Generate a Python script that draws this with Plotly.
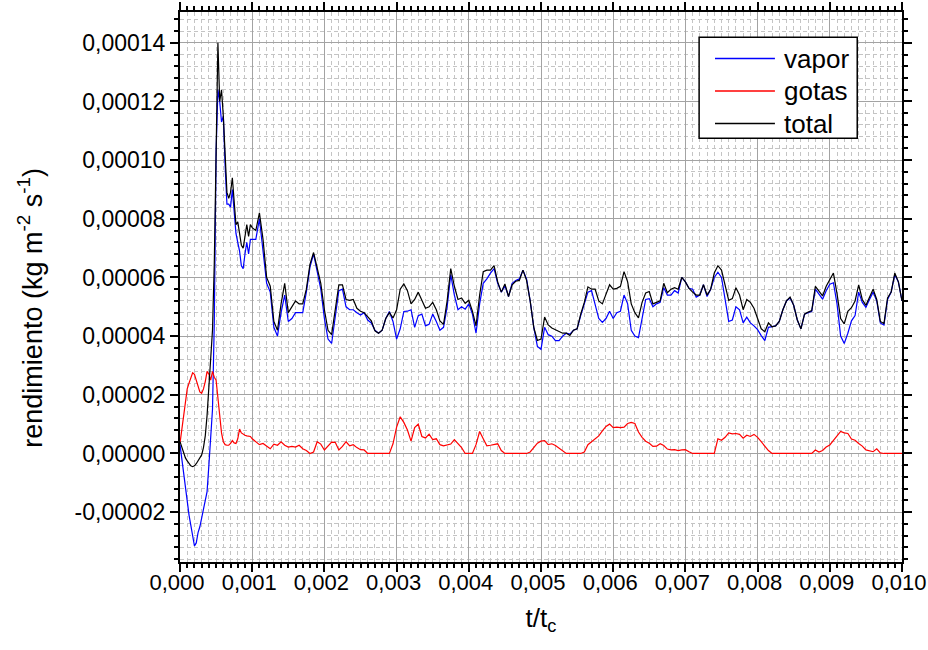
import numpy as np
import plotly.graph_objects as go

# Values are given in units of 1e-5 kg m^-2 s^-1
SCALE = 1e-5

# Sample times (t/t_c): step 2.5e-5 below 0.001, then step 5e-5 up to 0.010
t_fine = np.round(np.arange(0, 40) * 0.000025, 7)
t_coarse = np.round(0.001 + np.arange(0, 181) * 0.00005, 7)
t = np.concatenate([t_fine, t_coarse])

vapor_e5 = [
    # 0.000 - 0.000975
    0.3, -0.2, -0.6, -1.1, -1.6, -2.1, -2.45, -2.75, -3.15, -3.05,
    -2.7, -2.5, -2.2, -1.8, -1.6, -1.3, -0.4, 0.4, 1.5, 4.5,
    10.3, 12.4, 12.0, 11.3, 11.5, 9.8, 8.5, 8.5, 8.4, 9.0,
    8.1, 7.5, 7.2, 6.9, 6.4, 6.3, 6.8, 7.2, 6.8, 7.3,
    # 0.00100 - 0.01000
    7.3, 7.3, 8.0, 7.0, 5.8, 5.5, 4.3, 4.0, 4.8, 5.4,
    4.5, 4.6, 4.8, 4.8, 4.8, 5.5, 6.35, 6.8, 6.25, 5.6,
    4.6, 3.9, 3.75, 4.65, 5.55, 5.6, 5.0, 4.9, 4.9, 4.8,
    4.72, 4.8, 4.55, 4.45, 4.2, 4.1, 4.2, 4.6, 4.84, 4.5,
    3.9, 4.25, 4.84, 4.85, 4.9, 4.3, 4.7, 4.75, 4.35, 4.4,
    4.75, 4.5, 4.2, 4.3, 5.0, 6.1, 5.4, 4.9, 5.0, 4.92,
    5.1, 4.75, 4.1, 5.1, 5.8, 5.95, 6.15, 6.3, 5.8, 5.5,
    5.72, 5.35, 5.8, 5.9, 5.95, 6.25, 5.95, 5.2, 4.3, 3.65,
    3.55, 4.3, 4.05, 4.0, 3.85, 3.85, 4.0, 4.1, 4.07, 4.2,
    4.25, 4.7, 5.1, 5.5, 5.55, 5.1, 4.6, 4.47, 4.6, 4.85,
    4.6, 4.8, 4.85, 5.4, 5.1, 4.2, 4.0, 3.95, 4.6, 5.25,
    5.28, 5.0, 5.1, 5.15, 5.65, 5.4, 5.4, 5.55, 5.47, 6.0,
    5.85, 5.63, 5.6, 5.33, 5.4, 5.75, 5.35, 5.6, 6.0, 6.18,
    6.0, 5.2, 4.5, 4.55, 5.0, 4.9, 4.45, 4.65, 4.45, 4.35,
    4.22, 4.02, 3.85, 4.3, 4.32, 4.35, 4.5, 4.9, 5.2, 5.3,
    5.05, 4.55, 4.25, 4.75, 4.8, 4.85, 5.6, 5.45, 5.26, 5.55,
    5.77, 5.82, 5.1, 4.0, 3.75, 4.1, 4.52, 4.7, 5.5, 5.15,
    4.98, 5.25, 5.5, 5.2, 4.45, 4.38, 5.25, 5.5, 6.1, 5.85,
    5.2,
]

gotas_e5 = [
    # 0.000 - 0.000975
    0.35, 0.8, 1.2, 1.8, 2.2, 2.4, 2.6, 2.75, 2.7, 2.5,
    2.3, 2.1, 2.05, 2.2, 2.45, 2.8, 2.7, 2.5, 2.8, 2.6,
    2.5, 1.9, 1.3, 0.7, 0.4, 0.3, 0.28, 0.28, 0.34, 0.44,
    0.36, 0.34, 0.5, 0.83, 0.7, 0.65, 0.62, 0.6, 0.6, 0.58,
    # 0.00100 - 0.01000
    0.5, 0.4, 0.3, 0.34, 0.25, 0.16, 0.32, 0.28, 0.4, 0.28,
    0.22, 0.24, 0.22, 0.28, 0.16, 0.1, 0.0, 0.05, 0.4, 0.32,
    0.12, 0.26, 0.39, 0.38, 0.12, 0.24, 0.4, 0.26, 0.3, 0.2,
    0.13, 0.12, 0.0, 0.0, 0.0, 0.0, 0.0, 0.0, 0.0, 0.33,
    0.9, 1.25, 1.06, 0.8, 0.42, 0.88, 1.0, 0.58, 0.53, 0.66,
    0.47, 0.5, 0.3, 0.26, 0.28, 0.32, 0.47, 0.35, 0.2, 0.0,
    0.0, 0.0, 0.3, 0.75, 0.5, 0.26, 0.28, 0.3, 0.33, 0.1,
    0.0, 0.0, 0.0, 0.0, 0.0, 0.0, 0.0, 0.05, 0.2, 0.35,
    0.42, 0.44, 0.3, 0.33, 0.27, 0.18, 0.08, 0.0, 0.0, 0.0,
    0.0, 0.0, 0.05, 0.3, 0.4, 0.5, 0.6, 0.77, 0.92, 1.0,
    0.88, 0.9, 0.88, 0.9, 1.02, 1.06, 1.02, 0.73, 0.55, 0.42,
    0.35, 0.24, 0.25, 0.33, 0.27, 0.15, 0.12, 0.13, 0.1, 0.12,
    0.13, 0.06, 0.0, 0.0, 0.0, 0.0, 0.0, 0.0, 0.0, 0.5,
    0.45, 0.55, 0.7, 0.67, 0.68, 0.65, 0.52, 0.62, 0.58, 0.65,
    0.55, 0.4, 0.23, 0.1, 0.0, 0.0, 0.0, 0.0, 0.0, 0.0,
    0.0, 0.0, 0.0, 0.0, 0.0, 0.0, 0.12, 0.05, 0.1, 0.22,
    0.29, 0.45, 0.58, 0.75, 0.7, 0.68, 0.49, 0.45, 0.34, 0.25,
    0.12, 0.1, 0.06, 0.16, 0.02, 0.0, 0.0, 0.0, 0.0, 0.0,
    0.0,
]

total_e5 = [
    # 0.000 - 0.000975
    0.4, 0.2, 0.0, -0.15, -0.25, -0.35, -0.42, -0.45, -0.42, -0.35,
    -0.25, -0.15, -0.05, 0.2, 0.6, 1.3, 2.3, 3.2, 4.2, 6.5,
    11.0, 14.0, 12.0, 12.4, 11.5, 10.0, 8.9, 8.7, 8.9, 9.4,
    8.6, 7.8, 7.9, 7.5, 7.1, 7.0, 7.4, 7.8, 7.4, 7.8,
    # 0.00100 - 0.01000
    7.7, 7.6, 8.2, 7.3, 6.0, 5.7, 4.5, 4.2, 5.1, 5.8,
    4.8, 5.0, 5.2, 5.1, 5.1, 5.6, 6.45, 6.85, 6.3, 5.8,
    4.9, 4.2, 4.05, 4.85, 5.75, 5.75, 5.25, 5.22, 5.25, 4.95,
    4.85, 4.8, 4.65, 4.52, 4.18, 4.1, 4.2, 4.6, 4.8, 4.62,
    4.9, 5.6, 5.78, 5.55, 5.1, 5.25, 5.5, 5.25, 4.95, 5.0,
    5.15, 4.9, 4.52, 4.4, 5.2, 6.3, 5.7, 5.25, 5.3, 5.12,
    5.22, 4.85, 4.35, 5.4, 6.2, 6.25, 6.25, 6.4, 5.85, 5.5,
    5.78, 5.35, 5.75, 5.87, 5.9, 6.25, 5.9, 5.2, 4.3, 3.85,
    3.9, 4.65, 4.38, 4.28, 4.22, 4.15, 4.1, 4.1, 4.02, 4.2,
    4.25, 4.75, 5.15, 5.68, 5.6, 5.6, 5.2, 5.1, 5.45, 5.75,
    5.6, 5.63, 5.7, 6.2, 5.85, 5.1, 4.8, 4.62, 5.15, 5.47,
    5.52, 5.1, 5.15, 5.2, 5.8, 5.48, 5.6, 5.65, 5.6, 6.0,
    5.85, 5.63, 5.5, 5.4, 5.4, 5.75, 5.4, 5.6, 6.15, 6.4,
    6.25, 5.75, 5.22, 5.28, 5.65, 5.4, 4.9, 5.25, 5.15, 4.95,
    4.62, 4.25, 4.15, 4.45, 4.32, 4.35, 4.5, 4.9, 5.2, 5.33,
    5.05, 4.55, 4.25, 4.75, 4.82, 4.87, 5.7, 5.55, 5.37, 5.7,
    5.95, 6.15, 5.45, 4.6, 4.42, 4.85, 4.97, 5.2, 5.75, 5.25,
    5.05, 5.35, 5.6, 5.25, 4.5, 4.43, 5.3, 5.5, 6.15, 5.85,
    5.2,
]

assert len(vapor_e5) == len(t) and len(gotas_e5) == len(t) and len(total_e5) == len(t)

vapor = np.array(vapor_e5) * SCALE
gotas = np.array(gotas_e5) * SCALE
total = np.array(total_e5) * SCALE

x_tickvals = [0.000, 0.001, 0.002, 0.003, 0.004, 0.005, 0.006, 0.007, 0.008, 0.009, 0.010]
x_ticktext = ["0,000", "0,001", "0,002", "0,003", "0,004", "0,005",
              "0,006", "0,007", "0,008", "0,009", "0,010"]
y_tickvals = [-0.00002, 0.0, 0.00002, 0.00004, 0.00006, 0.00008, 0.00010, 0.00012, 0.00014]
y_ticktext = ["-0,00002", "0,00000", "0,00002", "0,00004", "0,00006",
              "0,00008", "0,00010", "0,00012", "0,00014"]

series_names = ["vapor", "gotas", "total"]
series_colors = ["#0000ff", "#ff0000", "#000000"]

FONT = "Liberation Sans, Arial, sans-serif"

fig = go.Figure()
for name, yvals, color in zip(series_names, [vapor, gotas, total], series_colors):
    fig.add_trace(go.Scatter(x=t, y=yvals, mode="lines", name=name,
                             line=dict(color=color, width=1.2), showlegend=False))

axis_common = dict(
    showline=True, linecolor="black", linewidth=2, mirror="ticks",
    ticks="outside", ticklen=8, tickwidth=2, tickcolor="black",
    showgrid=True, gridcolor="#a3a3a3", gridwidth=1, zeroline=False,
    ticklabeloverflow="allow",
)

fig.update_xaxes(
    **axis_common, range=[-1e-9, 0.010 + 1e-9], tickmode="array",
    tickvals=x_tickvals, ticktext=x_ticktext,
    tickfont=dict(family=FONT, size=22, color="black"), ticklabelshift=-3,
    ticklabelstandoff=-8,
    minor=dict(dtick=0.0001, tick0=0, ticks="outside", ticklen=4, tickwidth=1.5,
               tickcolor="black", showgrid=True, gridcolor="#c4c4c4",
               griddash="4px,3px", gridwidth=1),
    title=dict(text="t/t<sub>c</sub>", font=dict(family=FONT, size=26, color="black"),
               standoff=14),
)
fig.update_yaxes(
    **axis_common, range=[-0.000037, 0.0001505], tickmode="array",
    tickvals=y_tickvals, ticktext=y_ticktext,
    tickfont=dict(family=FONT, size=23, color="black"),
    minor=dict(dtick=0.000004, tick0=0, ticks="outside", ticklen=4, tickwidth=1.5,
               tickcolor="black", showgrid=True, gridcolor="#c4c4c4",
               griddash="4px,3px", gridwidth=1),
)

# Legend box drawn in plot-area (paper) coordinates
shapes = [dict(type="rect", xref="paper", yref="paper", x0=0.719, x1=0.938,
               y0=0.7705, y1=0.954, line=dict(color="black", width=1.5),
               fillcolor="white", layer="above")]
annotations = []
legend_rows = [0.9153, 0.8564, 0.7972]
for name, color, yrow in zip(series_names, series_colors, legend_rows):
    shapes.append(dict(type="line", xref="paper", yref="paper", x0=0.741, x1=0.824,
                       y0=yrow, y1=yrow, line=dict(color=color, width=1.5),
                       layer="above"))
    annotations.append(dict(xref="paper", yref="paper", x=0.834, y=yrow, text=name,
                            showarrow=False, xanchor="left", yanchor="middle",
                            font=dict(family=FONT, size=26, color="black")))

# Y-axis title placed as a rotated annotation
annotations.append(dict(xref="paper", yref="paper", x=-0.207, y=0.4616,
                        text="rendimiento (kg m<sup>-2</sup> s<sup>-1</sup>)",
                        textangle=-90, showarrow=False, xanchor="center", yanchor="middle",
                        font=dict(family=FONT, size=27, color="black")))

fig.update_layout(
    width=928, height=650,
    margin=dict(l=180, r=26, t=12, b=88, autoexpand=False),
    paper_bgcolor="white", plot_bgcolor="white",
    shapes=shapes, annotations=annotations,
    font=dict(family=FONT, color="black"),
)

fig.write_html("out.html")
